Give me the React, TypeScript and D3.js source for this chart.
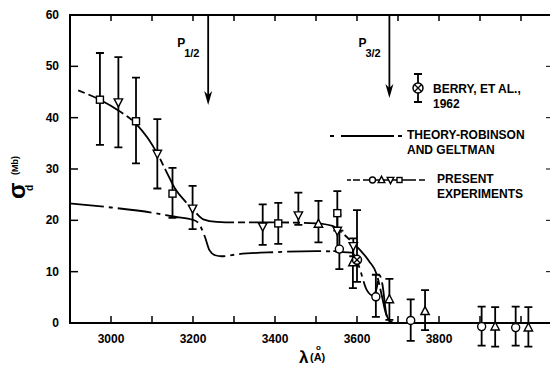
import React, { useRef, useEffect } from 'react';
import * as d3 from 'd3';

// theory curve (Robinson & Geltman)
const theoryWl = [2900, 3000, 3100, 3156, 3200, 3213, 3229, 3240, 3254, 3270, 3310, 3400, 3500, 3587, 3599, 3605, 3624, 3640, 3647, 3655, 3662, 3672, 3680, 3700];
const theorySigma = [23.3, 22.5, 21.5, 20.7, 20.1, 19.5, 16.8, 14.2, 13.2, 13.0, 13.4, 13.8, 14.0, 13.7, 12.3, 11, 6.4, 5.3, 6.5, 9.3, 7.5, 1.5, 0.3, 0.2];

// smooth curve through present experiments
const expWl = [2920, 2973, 3020, 3061, 3090, 3113, 3135, 3156, 3180, 3199, 3225, 3258, 3300, 3400, 3500, 3540, 3560, 3590, 3610, 3630, 3648, 3660, 3670, 3680];
const expSigma = [45.3, 43.5, 41.3, 38.8, 36, 33, 29.5, 26.2, 23.8, 22.2, 20.2, 19.7, 19.6, 19.6, 19.4, 18.9, 17.8, 15.6, 14, 12, 9.5, 5.5, 2, 0.3];

// measured points: s = square, v = triangle down, ^ = triangle up, o = circle
const ptShape = ['s', 'v', 's', 'v', 's', 'v', 'v', 's', 'v', '^', 's', 'v', 'o', 'v', '^', 'o', '^', 'o', '^', 'o', '^', 'o', '^'];
const ptWl = [2973, 3018, 3061, 3113, 3150, 3199, 3370, 3408, 3457, 3506, 3552, 3552, 3557, 3591, 3590, 3646, 3679, 3731, 3766, 3904, 3937, 3987, 4018];
const ptSigma = [43.5, 43, 39.3, 33, 25.2, 22.3, 18.8, 19.4, 21, 19.3, 21.4, 18, 14.4, 15, 11.8, 5.1, 4.6, 0.5, 2.3, -0.7, -0.7, -0.9, -0.9];
const ptLo = [34.7, 34.2, 31.1, 26.2, 20.5, 18.3, 15.2, 15.4, 19.1, 15.7, 18, 14, 10.5, 13, 6.8, 1.2, 0.6, -3.5, -1.4, -4.4, -4.6, -4.4, -4.6];
const ptHi = [52.6, 51.8, 47.8, 39.7, 30.2, 26.7, 23.1, 23.4, 25.4, 23.8, 25.7, 21, 18, 16.5, 15.5, 9.4, 8.6, 4.6, 6.4, 3.2, 3.1, 3.2, 3.1];

// Berry et al. 1962
const berryWl = [3600];
const berrySigma = [12.3];
const berryLo = [8];
const berryHi = [22];

// thresholds
const arrowWl = [3237, 3679];
const arrowTip = [105, 98];
const arrowName = ['1/2', '3/2'];

const xTicks = d3.range(3000, 4001, 100);
const xLabels = [3000, 3200, 3400, 3600, 3800];
const yTicks = [0, 10, 20, 30, 40, 50, 60];

const FONT = '"Liberation Sans", Arial, Helvetica, sans-serif';

const App = () => {
    const svgRef = useRef(null);

    useEffect(() => {
        const svg = d3.select(svgRef.current);
        svg.selectAll('*').remove();

        const x = d3.scaleLinear().domain([2900, 4000]).range([70, 521]);
        const y = d3.scaleLinear().domain([0, 60]).range([323, 15]);
        const left = 70, right = 550, top = 15, bottom = 323;

        const marker = (g, shape, cx, cy, s) => {
            if (shape === 's') {
                g.append('rect').attr('x', cx - s / 2).attr('y', cy - s / 2).attr('width', s).attr('height', s)
                    .attr('fill', '#fff').attr('stroke', '#000').attr('stroke-width', 1.4);
            } else if (shape === 'o') {
                g.append('circle').attr('cx', cx).attr('cy', cy).attr('r', s / 2 + 0.5)
                    .attr('fill', '#fff').attr('stroke', '#000').attr('stroke-width', 1.4);
            } else {
                const h = s * 0.6;
                const d = shape === 'v'
                    ? `M${cx - h},${cy - h * 0.8} L${cx + h},${cy - h * 0.8} L${cx},${cy + h * 1.1} Z`
                    : `M${cx - h},${cy + h * 0.8} L${cx + h},${cy + h * 0.8} L${cx},${cy - h * 1.1} Z`;
                g.append('path').attr('d', d).attr('fill', '#fff').attr('stroke', '#000').attr('stroke-width', 1.4);
            }
        };

        const crossed = (g, cx, cy, r) => {
            g.append('circle').attr('cx', cx).attr('cy', cy).attr('r', r)
                .attr('fill', '#fff').attr('stroke', '#000').attr('stroke-width', 1.5);
            const k = r * 0.7;
            g.append('path').attr('d', `M${cx - k},${cy - k} L${cx + k},${cy + k} M${cx - k},${cy + k} L${cx + k},${cy - k}`)
                .attr('stroke', '#000').attr('stroke-width', 1.3);
        };

        const errBar = (g, cx, y0, y1, cap) => {
            g.append('path')
                .attr('d', `M${cx},${y0} L${cx},${y1} M${cx - cap},${y0} L${cx + cap},${y0} M${cx - cap},${y1} L${cx + cap},${y1}`)
                .attr('stroke', '#000').attr('stroke-width', 1.8).attr('fill', 'none');
        };

        // frame
        const axes = svg.append('g').attr('stroke', '#000').attr('stroke-width', 2).attr('fill', 'none');
        axes.append('path').attr('d', `M${right},${top} L${left},${top} L${left},${bottom} L${right},${bottom}`);
        xTicks.forEach((t) => {
            axes.append('line').attr('x1', x(t)).attr('x2', x(t)).attr('y1', bottom).attr('y2', bottom - 7).attr('stroke-width', 1.5);
            axes.append('line').attr('x1', x(t)).attr('x2', x(t)).attr('y1', top).attr('y2', top + 6).attr('stroke-width', 1.5);
        });
        yTicks.filter((t) => t > 0 && t < 60).forEach((t) => {
            axes.append('line').attr('x1', left).attr('x2', left + 8).attr('y1', y(t)).attr('y2', y(t)).attr('stroke-width', 1.5);
            axes.append('line').attr('x1', right - 4).attr('x2', right).attr('y1', y(t)).attr('y2', y(t)).attr('stroke-width', 1);
        });

        const txt = svg.append('g').attr('font-family', FONT).attr('font-weight', 'bold').attr('fill', '#000');
        xLabels.forEach((t) => {
            txt.append('text').attr('x', x(t)).attr('y', 343).attr('text-anchor', 'middle').attr('font-size', 12).text(t);
        });
        yTicks.forEach((t) => {
            txt.append('text').attr('x', 59).attr('y', y(t) + 4).attr('text-anchor', 'end').attr('font-size', 12).text(t);
        });

        // axis titles
        txt.append('text').attr('x', 299).attr('y', 363).attr('font-size', 17).text('λ');
        txt.append('text').attr('x', 310).attr('y', 361).attr('font-size', 11).text('(A)');
        txt.append('text').attr('x', 316).attr('y', 350).attr('font-size', 8).text('o');
        const yl = txt.append('g').attr('transform', 'translate(25,200) rotate(-90)');
        yl.append('text').attr('x', 1).attr('y', 0).attr('font-size', 24).text('σ');
        yl.append('text').attr('x', 9).attr('y', 8).attr('font-size', 10).text('d');
        yl.append('text').attr('x', 25).attr('y', -7).attr('font-size', 9).text('(Mb)');

        // threshold arrows
        arrowWl.forEach((w, i) => {
            const ax = x(w);
            const tip = arrowTip[i];
            svg.append('line').attr('x1', ax).attr('x2', ax).attr('y1', top).attr('y2', tip - 8)
                .attr('stroke', '#000').attr('stroke-width', 1.8);
            svg.append('path').attr('d', `M${ax},${tip} L${ax - 4},${tip - 14} L${ax},${tip - 10} L${ax + 4},${tip - 14} Z`)
                .attr('fill', '#000');
            txt.append('text').attr('x', ax - 31).attr('y', 47).attr('font-size', 12).text('P');
            txt.append('text').attr('x', ax - 24).attr('y', 57).attr('font-size', 11).text(arrowName[i]);
        });

        // curves
        const line = d3.line().x((d) => x(d[0])).y((d) => y(d[1])).curve(d3.curveMonotoneX);
        svg.append('path').datum(theoryWl.map((w, i) => [w, theorySigma[i]]))
            .attr('d', line).attr('fill', 'none').attr('stroke', '#000').attr('stroke-width', 1.8)
            .attr('stroke-dasharray', '34,5,4,5');
        svg.append('path').datum(expWl.map((w, i) => [w, expSigma[i]]))
            .attr('d', line).attr('fill', 'none').attr('stroke', '#000').attr('stroke-width', 1.8)
            .attr('stroke-dasharray', '7,4,40,4');

        // error bars then markers
        const pts = svg.append('g');
        ptWl.forEach((w, i) => errBar(pts, x(w), y(ptHi[i]), y(ptLo[i]), 4));
        berryWl.forEach((w, i) => errBar(pts, x(w), y(berryHi[i]), y(berryLo[i]), 4));
        ptWl.forEach((w, i) => marker(pts, ptShape[i], x(w), y(ptSigma[i]), 7));
        berryWl.forEach((w, i) => crossed(pts, x(w), y(berrySigma[i]), 4.5));

        // legend
        const lg = svg.append('g');
        errBar(lg, 418, 74, 102, 4);
        crossed(lg, 418, 88, 5);
        txt.append('text').attr('x', 433).attr('y', 93).attr('font-size', 12).text('BERRY, ET AL.,');
        txt.append('text').attr('x', 433).attr('y', 108).attr('font-size', 12).text('1962');

        lg.append('path').attr('d', 'M330,136 L402,136').attr('stroke', '#000').attr('stroke-width', 1.8)
            .attr('stroke-dasharray', '4,7,53,4,4').attr('fill', 'none');
        txt.append('text').attr('x', 407).attr('y', 139).attr('font-size', 12).text('THEORY-ROBINSON');
        txt.append('text').attr('x', 407).attr('y', 154).attr('font-size', 12).text('AND GELTMAN');

        lg.append('path').attr('d', 'M347,180 L427,180').attr('stroke', '#000').attr('stroke-width', 1.6)
            .attr('stroke-dasharray', '4,2,7,3,53,3,6,4,10').attr('fill', 'none');
        marker(lg, 'o', 372.5, 180, 5);
        marker(lg, '^', 381.5, 180, 5.5);
        marker(lg, 'v', 390.5, 180, 5.5);
        marker(lg, 's', 399.5, 180, 5);
        txt.append('text').attr('x', 437).attr('y', 183).attr('font-size', 12).text('PRESENT');
        txt.append('text').attr('x', 437).attr('y', 198).attr('font-size', 12).text('EXPERIMENTS');
    }, []);

    return (
        <svg ref={svgRef} width={550} height={366}
            style={{ position: 'absolute', left: 0, top: 0, background: '#fff' }} />
    );
};

export default App;
